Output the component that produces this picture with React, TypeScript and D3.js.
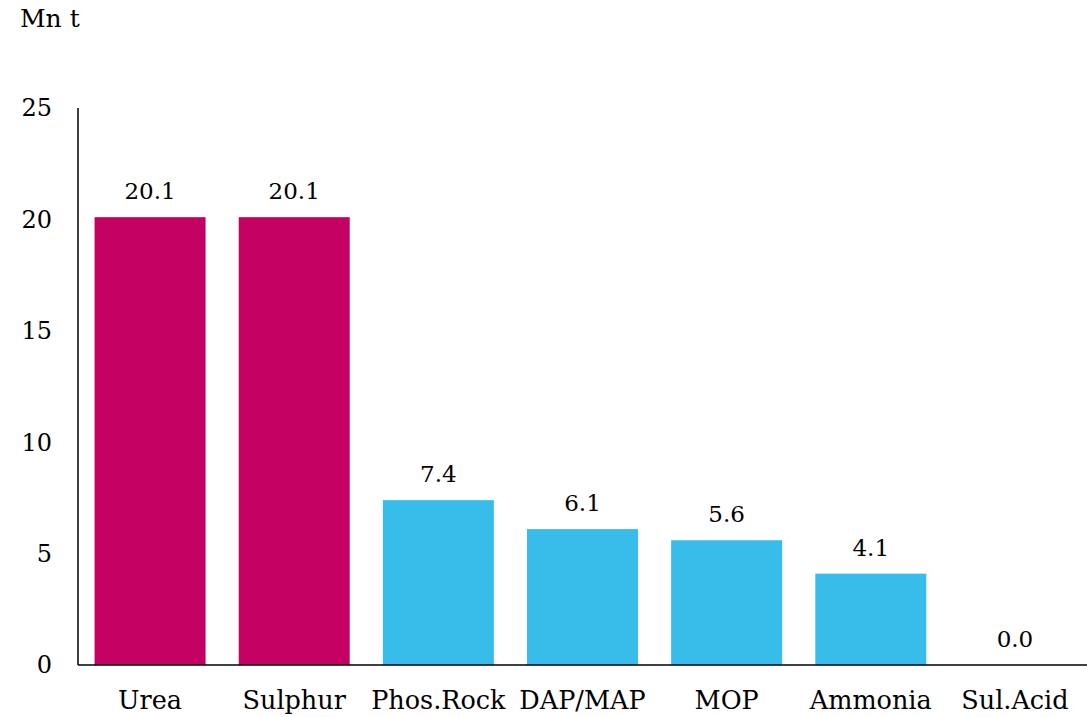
import React from "react";
import * as d3 from "d3";

const categories = ["Urea", "Sulphur", "Phos.Rock", "DAP/MAP", "MOP", "Ammonia", "Sul.Acid"];
const values = [20.1, 20.1, 7.4, 6.1, 5.6, 4.1, 0.0];
const highlighted = ["Urea", "Sulphur"];
const yTicks = [0, 5, 10, 15, 20, 25];

const width = 1087;
const height = 717;
const left = 78;
const top = 108;
const bottom = 665;
const font = "'DejaVu Serif', serif";

const App = () => {
  const x = d3
    .scaleBand<string>()
    .domain(categories)
    .range([left, width])
    .paddingInner(0.23)
    .paddingOuter(0.115);

  const y = d3.scaleLinear().domain([0, 25]).range([bottom, top]);

  return (
    <div style={{ position: "absolute", left: 0, top: 0 }}>
      <svg width={width} height={height} style={{ display: "block" }}>
        <text x={20} y={27} fontSize="25px" fontFamily={font} fill="#000">Mn t</text>

        {categories.map((c, i) => (
          <rect
            key={c}
            x={x(c)}
            y={y(values[i])}
            width={x.bandwidth()}
            height={bottom - y(values[i])}
            fill={highlighted.includes(c) ? "#C40062" : "#38BDEB"}
          />
        ))}

        {categories.map((c, i) => (
          <text
            key={"v" + c}
            x={(x(c) as number) + x.bandwidth() / 2}
            y={y(values[i]) - 18}
            fontSize="23px"
            fontFamily={font}
            textAnchor="middle"
            fill="#000"
          >
            {values[i].toFixed(1)}
          </text>
        ))}

        <line x1={left} x2={left} y1={top} y2={bottom} stroke="#000" strokeWidth={1.5} />
        <line x1={left} x2={width} y1={bottom} y2={bottom} stroke="#000" strokeWidth={1.5} />

        {yTicks.map(t => (
          <text
            key={"t" + t}
            x={52}
            y={y(t)}
            dy="0.35em"
            fontSize="24px"
            fontFamily={font}
            textAnchor="end"
            fill="#000"
          >
            {t}
          </text>
        ))}

        {categories.map(c => (
          <text
            key={"c" + c}
            x={(x(c) as number) + x.bandwidth() / 2}
            y={709}
            fontSize="25.5px"
            fontFamily={font}
            textAnchor="middle"
            fill="#000"
          >
            {c}
          </text>
        ))}
      </svg>
    </div>
  );
};

export default App;
